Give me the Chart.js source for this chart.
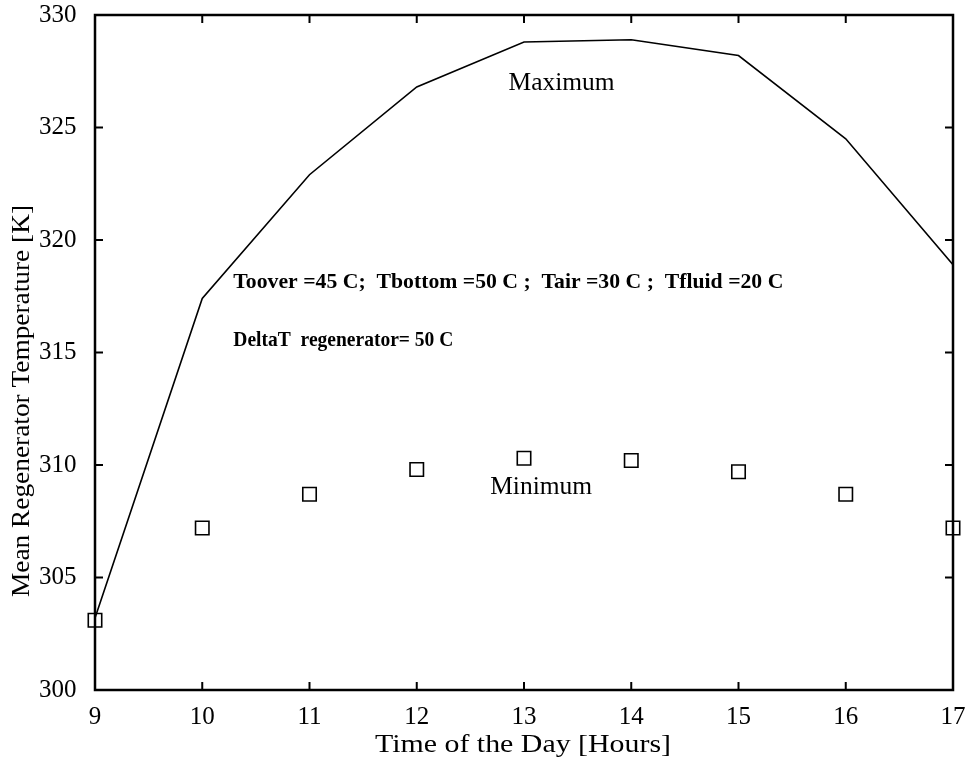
<!DOCTYPE html>
<html>
<head>
<meta charset="utf-8">
<script src="https://cdn.jsdelivr.net/npm/chart.js@4.4.1/dist/chart.umd.min.js"></script>
<style>
  html, body { margin: 0; padding: 0; background: #fff; }
  #wrap { width: 968px; height: 766px; }
</style>
</head>
<body>
<div id="wrap"><canvas id="c" width="968" height="766"></canvas></div>
<script>
// Hours of the day
const hours = [9, 10, 11, 12, 13, 14, 15, 16, 17];
// Mean regenerator temperature [K]
const maximumTemp = [303.2, 317.4, 322.9, 326.8, 328.8, 328.9, 328.2, 324.5, 318.9];
const minimumTemp = [303.1, 307.2, 308.7, 309.8, 310.3, 310.2, 309.7, 308.7, 307.2];
const xTicks = [9, 10, 11, 12, 13, 14, 15, 16, 17];
const yTicks = [300, 305, 310, 315, 320, 325, 330];

const SERIF = '"Liberation Serif", "Times New Roman", serif';

// Text placed in data coordinates (width = set width of the line in px)
const notes = [
  { text: 'Maximum', x: 13.35, y: 326.98, align: 'center', bold: false, size: 25, width: 106 },
  { text: 'Minimum', x: 13.16, y: 309.02, align: 'center', bold: false, size: 25, width: 102 },
  { text: 'Toover =45 C;  Tbottom =50 C ;  Tair =30 C ;  Tfluid =20 C', x: 10.29, y: 318.1, align: 'left', bold: true, size: 22, width: 550 },
  { text: 'DeltaT  regenerator= 50 C', x: 10.29, y: 315.55, align: 'left', bold: true, size: 22, width: 220 }
];

// draw a line of text stretched/condensed to a given width
function fitText(ctx, text, x, y, width, align) {
  const w = ctx.measureText(text).width;
  const k = width / w;
  ctx.save();
  ctx.translate(x, y);
  ctx.scale(k, 1);
  ctx.textAlign = align;
  ctx.fillText(text, 0, 0);
  ctx.restore();
}

const framePlugin = {
  id: 'frame',
  afterDatasetsDraw(chart) {
    const { ctx, chartArea: a, scales: { x, y } } = chart;
    ctx.save();
    ctx.strokeStyle = '#000';
    ctx.lineWidth = 2.5;
    ctx.strokeRect(a.left, a.top, a.right - a.left, a.bottom - a.top);
    const tl = 8;
    ctx.lineWidth = 2;
    ctx.beginPath();
    xTicks.forEach(v => {
      const px = x.getPixelForValue(v);
      ctx.moveTo(px, a.bottom); ctx.lineTo(px, a.bottom - tl);
      ctx.moveTo(px, a.top); ctx.lineTo(px, a.top + tl);
    });
    yTicks.forEach(v => {
      const py = y.getPixelForValue(v);
      ctx.moveTo(a.left, py); ctx.lineTo(a.left + tl, py);
      ctx.moveTo(a.right, py); ctx.lineTo(a.right - tl, py);
    });
    ctx.stroke();

    // annotations
    ctx.fillStyle = '#000';
    ctx.textBaseline = 'middle';
    notes.forEach(n => {
      ctx.font = (n.bold ? 'bold ' : '') + n.size + 'px ' + SERIF;
      fitText(ctx, n.text, x.getPixelForValue(n.x), y.getPixelForValue(n.y), n.width, n.align);
    });

    // axis titles
    ctx.font = '26px ' + SERIF;
    fitText(ctx, 'Time of the Day [Hours]', 523, 745, 296, 'center');
    ctx.save();
    ctx.translate(22, 401);
    ctx.rotate(-Math.PI / 2);
    ctx.font = '26px ' + SERIF;
    fitText(ctx, 'Mean Regenerator Temperature [K]', 0, 0, 392, 'center');
    ctx.restore();
    ctx.restore();
  }
};

new Chart(document.getElementById('c'), {
  type: 'line',
  data: {
    datasets: [
      {
        label: 'Maximum',
        data: hours.map((h, i) => ({ x: h, y: maximumTemp[i] })),
        borderColor: '#000',
        borderWidth: 1.6,
        pointRadius: 0,
        tension: 0,
        fill: false
      },
      {
        label: 'Minimum',
        data: hours.map((h, i) => ({ x: h, y: minimumTemp[i] })),
        showLine: false,
        pointStyle: 'rect',
        pointRadius: 9.5,
        pointBorderWidth: 1.6,
        pointBorderColor: '#000',
        pointBackgroundColor: '#fff',
        clip: false
      }
    ]
  },
  options: {
    responsive: false,
    animation: false,
    layout: { padding: { left: 39, right: 15, top: 15, bottom: 0 } },
    plugins: { legend: { display: false }, tooltip: { enabled: false } },
    scales: {
      x: {
        type: 'linear',
        min: 9, max: 17,
        afterFit(s) { s.height = 76; },
        afterBuildTicks(s) { s.ticks = xTicks.map(v => ({ value: v })); },
        grid: { display: false, drawTicks: false },
        border: { display: false },
        ticks: { color: '#000', padding: 0, font: { family: SERIF, size: 25, lineHeight: 2.2 }, maxRotation: 0 }
      },
      y: {
        type: 'linear',
        min: 300, max: 330,
        afterFit(s) { s.width = 56; },
        afterBuildTicks(s) { s.ticks = yTicks.map(v => ({ value: v })); },
        grid: { display: false, drawTicks: false },
        border: { display: false },
        ticks: { color: '#000', padding: 0, crossAlign: 'far', font: { family: SERIF, size: 25 } }
      }
    }
  },
  plugins: [framePlugin]
});
</script>
</body>
</html>
